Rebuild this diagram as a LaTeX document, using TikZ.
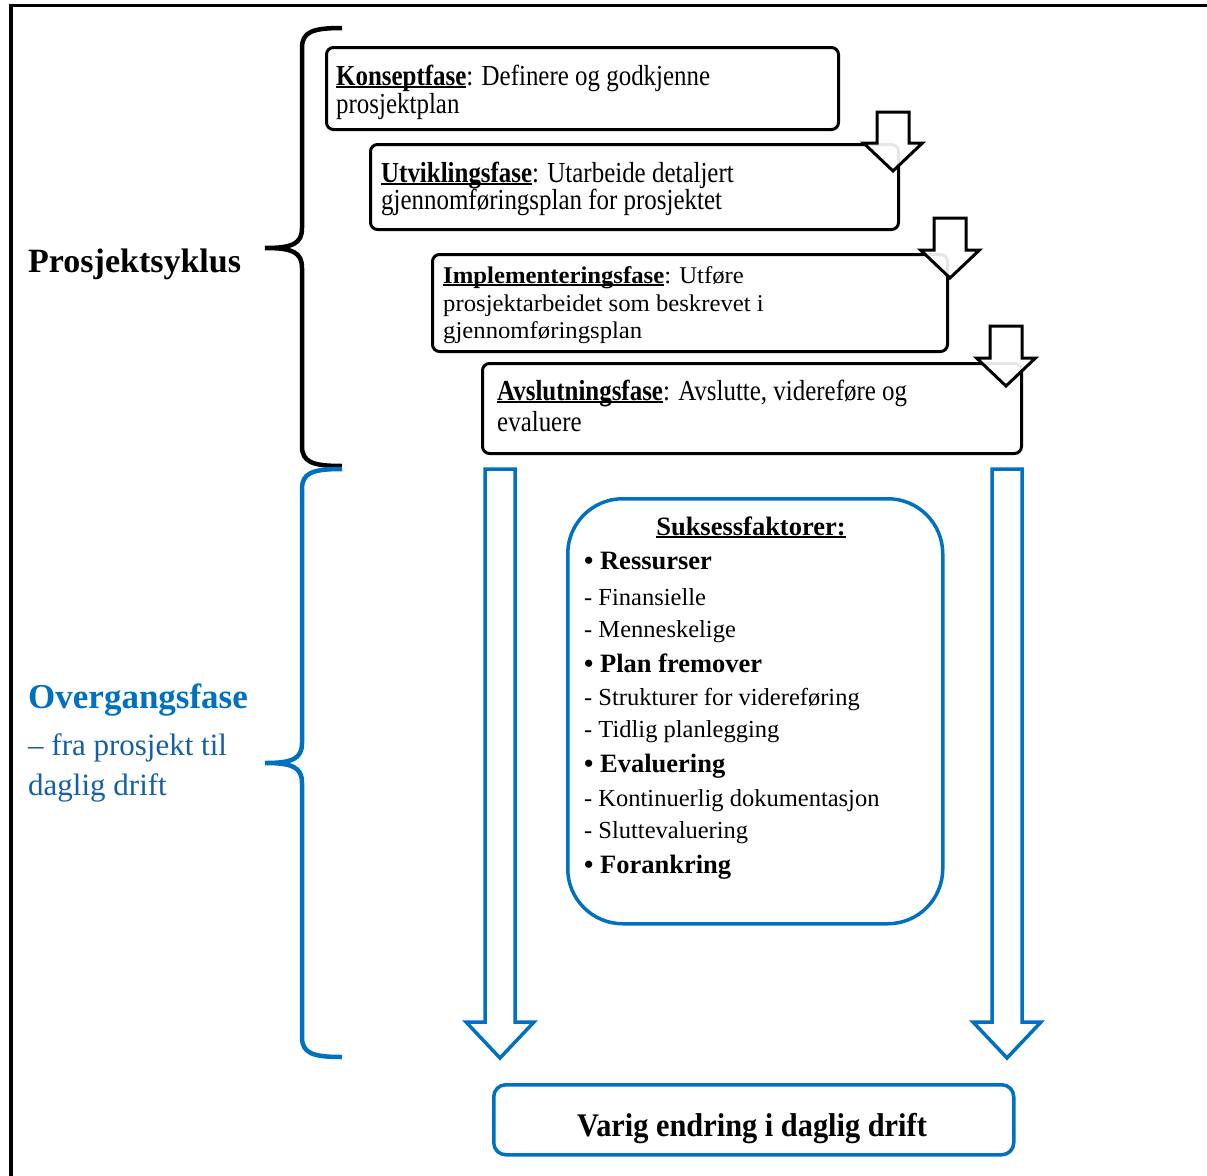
\documentclass[tikz,border=0pt]{standalone}
\usepackage{fontspec}
\setmainfont{Liberation Serif}
\newfontfamily\cfont[FakeStretch=0.86]{Liberation Serif}
\newfontfamily\wfont[FakeStretch=1.03]{Liberation Serif}
\newfontfamily\vfont[FakeStretch=0.92]{Liberation Serif}
\definecolor{mblue}{HTML}{0070C0}
\definecolor{tblue}{HTML}{155FA8}
\newcommand\ulx[1]{\setbox0=\hbox{#1}\rlap{\rule[-2.6pt]{\wd0}{1.5pt}}\box0}
\newcommand\bigb{\fontsize{26.5}{26.5}\selectfont\bfseries}
\newcommand\smallr{\fontsize{24.5}{24.5}\selectfont}
\tikzset{
  pbox/.style={draw=black, line width=3pt, rounded corners=7pt, anchor=north west, inner sep=0pt, fill=white},
  hollow/.style={draw=black, line width=3pt, fill=white, fill opacity=0.9, line join=miter},
  bluearrow/.style={draw=mblue, line width=3.5pt, fill=white, line join=miter},
  txt/.style={anchor=base west, inner sep=0pt},
  ctxt/.style={anchor=base, inner sep=0pt},
  ptext/.style={txt, font=\cfont\fontsize{29}{29}\selectfont},
  p3text/.style={txt, font=\wfont\fontsize{24}{24}\selectfont},
  bitem/.style={txt, font=\bigb},
  sitem/.style={txt, font=\smallr},
}
\begin{document}
\begin{tikzpicture}[x=1pt,y=-1pt]
\useasboundingbox (0,0) rectangle (1207,1175);
\clip (0,0) rectangle (1207,1175);
% outer frame
\draw[line width=3.5pt] (11,1200) -- (11,5.5) -- (1230,5.5);

% braces
\draw[line width=4.5pt] (342,28) .. controls (312,28) and (302,32) .. (302,48) -- (302,228)
  .. controls (302,244) and (292,248) .. (265,248)
  .. controls (292,248) and (302,252) .. (302,268) -- (302,446)
  .. controls (302,462) and (312,466) .. (342,466);
\draw[mblue, line width=4.5pt] (342,469) .. controls (312,469) and (302,473) .. (302,489) -- (302,743)
  .. controls (302,759) and (292,763) .. (265,763)
  .. controls (292,763) and (302,767) .. (302,783) -- (302,1037)
  .. controls (302,1053) and (312,1057) .. (342,1057);

% side labels
\node[txt, font=\fontsize{34}{34}\selectfont\bfseries] (ps) at (28,272) {Prosjektsyklus};
\node[txt, text=mblue, font=\fontsize{35}{35}\selectfont\bfseries] (og) at (28,708) {Overgangsfase};
\node[txt, text=tblue, font=\fontsize{31}{31}\selectfont] (og2) at (28,755) {\textendash{} fra prosjekt til};
\node[txt, text=tblue, font=\fontsize{31}{31}\selectfont] (og3) at (28,795) {daglig drift};

% phase boxes
\node[pbox, minimum width=512pt, minimum height=82pt] (b1) at (325,46) {};
\node[pbox, minimum width=528pt, minimum height=85pt] (b2) at (369,143) {};
\node[pbox, minimum width=515pt, minimum height=97pt] (b3) at (431,253) {};
\node[pbox, minimum width=539pt, minimum height=90pt] (b4) at (481,362) {};

\node[ptext] (t1a) at (336,85) {\ulx{\textbf{Konseptfase}}: Definere og godkjenne};
\node[ptext] (t1b) at (336,113) {prosjektplan};
\node[ptext] (t2a) at (381,182) {\ulx{\textbf{Utviklingsfase}}: Utarbeide detaljert};
\node[ptext] (t2b) at (381,209) {gjennomføringsplan for prosjektet};
\node[p3text] (t3a) at (443,283) {\ulx{\textbf{Implementeringsfase}}: Utføre};
\node[p3text] (t3b) at (443,311) {prosjektarbeidet som beskrevet i};
\node[p3text] (t3c) at (443,338) {gjennomføringsplan};
\node[ptext] (t4a) at (497,400) {\ulx{\textbf{Avslutningsfase}}: Avslutte, videreføre og};
\node[ptext] (t4b) at (497,431) {evaluere};

% hollow black arrows
\draw[hollow] (877,112) -- (909,112) -- (909,143) -- (922.5,143) -- (893,171) -- (863.5,143) -- (877,143) -- cycle;
\draw[hollow] (934,218) -- (966,218) -- (966,250) -- (979.5,250) -- (950,278) -- (920.5,250) -- (934,250) -- cycle;
\draw[hollow] (990,326) -- (1022,326) -- (1022,358) -- (1035.5,358) -- (1006,386) -- (976.5,358) -- (990,358) -- cycle;

% blue arrows
\draw[bluearrow] (485,469) -- (515,469) -- (515,1022) -- (534,1022) -- (500,1058) -- (466,1022) -- (485,1022) -- cycle;
\draw[bluearrow] (992,469) -- (1022,469) -- (1022,1022) -- (1041,1022) -- (1007,1058) -- (973,1022) -- (992,1022) -- cycle;

% success factors box
\node[draw=mblue, line width=3.5pt, rounded corners=55pt, minimum width=375pt, minimum height=425pt, anchor=north west, inner sep=0pt] (sf) at (566,497) {};
\node[ctxt, font=\bigb] (sh) at (751,535) {\ulx{Suksessfaktorer:}};
\node[bitem] (s1) at (584,569) {• Ressurser};
\node[sitem] (s2) at (584,605) {- Finansielle};
\node[sitem] (s3) at (584,637) {- Menneskelige};
\node[bitem] (s4) at (584,672) {• Plan fremover};
\node[sitem] (s5) at (584,705) {- Strukturer for videreføring};
\node[sitem] (s6) at (584,737) {- Tidlig planlegging};
\node[bitem] (s7) at (584,772) {• Evaluering};
\node[sitem] (s8) at (584,806) {- Kontinuerlig dokumentasjon};
\node[sitem] (s9) at (584,838) {- Sluttevaluering};
\node[bitem] (s10) at (584,873) {• Forankring};

% final box
\node[draw=mblue, line width=3.5pt, rounded corners=12pt, minimum width=520pt, minimum height=70pt, anchor=north west, inner sep=0pt] (vb) at (492,1083) {};
\node[ctxt, font=\vfont\fontsize{33}{33}\selectfont\bfseries] (vt) at (752,1136) {Varig endring i daglig drift};
\end{tikzpicture}
\end{document}
